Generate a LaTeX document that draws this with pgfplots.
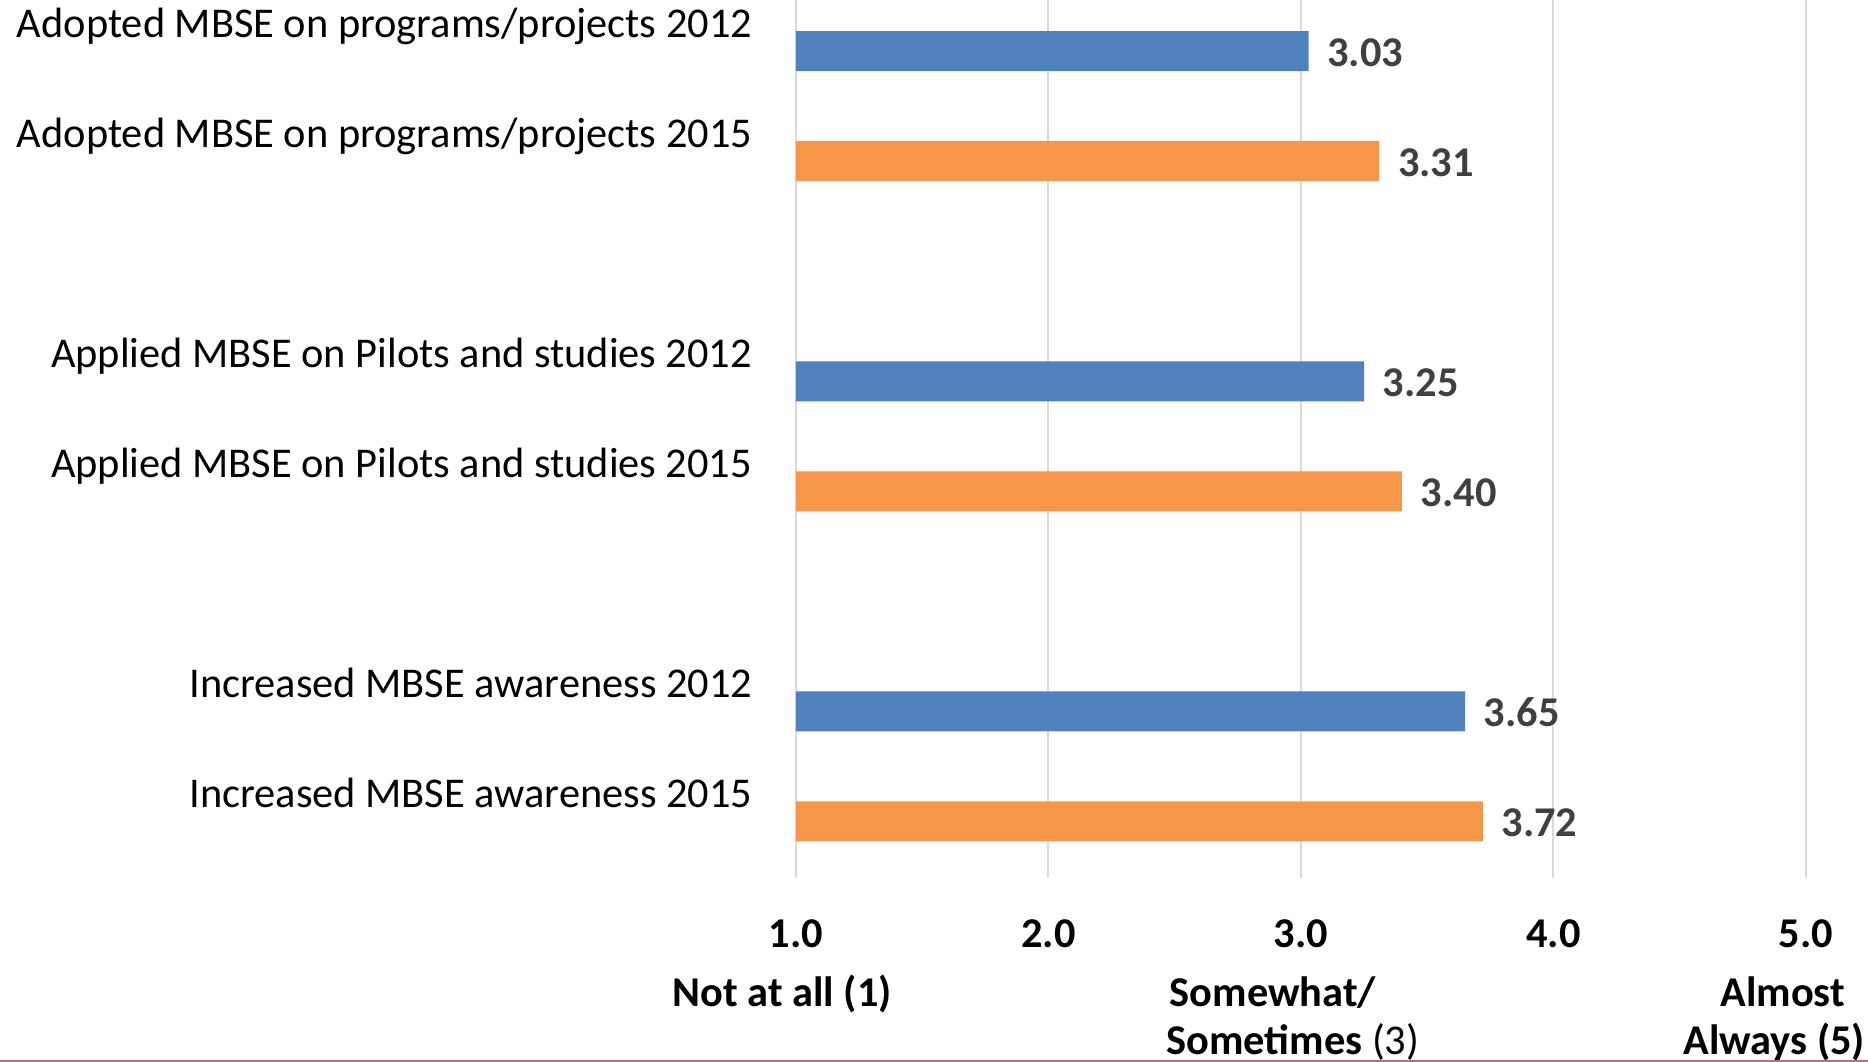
\documentclass[border=0pt]{standalone}
\usepackage{pgfplots}
\pgfplotsset{compat=1.18}
\usepackage{fontspec}
\setmainfont{Carlito}
\definecolor{barblue}{HTML}{4F81BD}
\definecolor{barorange}{HTML}{F79646}
\definecolor{lblgray}{HTML}{404040}
\definecolor{gridgray}{HTML}{D9D9D9}
\definecolor{redline}{HTML}{B87070}
\newcommand{\fs}{\fontsize{10.6}{12.7}\selectfont}
\begin{document}
\begin{tikzpicture}
\useasboundingbox (-199pt,-46pt) rectangle (268pt,219.5pt);
\begin{axis}[
  at={(0pt,0pt)}, anchor=south west,
  scale only axis, width=252.5pt, height=219.5pt,
  xmin=1, xmax=5, ymin=-0.465, ymax=7.515, y dir=reverse,
  axis line style={draw=none},
  major tick length=0pt,
  xtick={1,2,3,4,5}, xticklabels={1.0,2.0,3.0,4.0,5.0},
  xticklabel style={font=\fs\bfseries, anchor=base, inner sep=0pt, yshift=-17.4pt},
  ytick={0,1,3,4,6,7},
  yticklabels={Adopted MBSE on programs/projects 2012,
               Adopted MBSE on programs/projects 2015,
               Applied MBSE on Pilots and studies 2012,
               Applied MBSE on Pilots and studies 2015,
               Increased MBSE awareness 2012,
               Increased MBSE awareness 2015},
  yticklabel style={font=\fs, anchor=base east, inner sep=0pt, xshift=-10.75pt, yshift=3.4pt},
  xmajorgrids, ymajorgrids=false,
  grid style={gridgray, line width=0.5pt},
  xbar, bar width=10pt, bar shift=0pt,
  clip mode=individual,
  point meta=x,
  nodes near coords={\pgfmathprintnumber[fixed,fixed zerofill,precision=2,assume math mode=true]{\pgfplotspointmeta}},
  every node near coord/.append style={font=\fs\bfseries, color=lblgray, anchor=base west, inner sep=0pt, xshift=4.5pt, yshift=-3.9pt},
]
\addplot[draw=none, fill=barblue] coordinates {(3.03,0) (3.25,3) (3.65,6)};
\addplot[draw=none, fill=barorange] coordinates {(3.31,1) (3.40,4) (3.72,7)};
\node[font=\fs\bfseries, anchor=base, inner sep=0pt, yshift=-32pt] at (axis cs:0.945,7.515) {Not at all (1)};
\node[font=\fs\bfseries, anchor=base, inner sep=0pt, yshift=-32pt] at (axis cs:2.889,7.515) {Somewhat/};
\node[font=\fs, anchor=base, inner sep=0pt, yshift=-44.1pt] at (axis cs:2.968,7.515) {\textbf{Sometimes} (3)};
\node[font=\fs\bfseries, anchor=base, inner sep=0pt, yshift=-32pt] at (axis cs:4.908,7.515) {Almost};
\node[font=\fs\bfseries, anchor=base, inner sep=0pt, yshift=-44.1pt] at (axis cs:4.874,7.515) {Always (5)};
\end{axis}
\draw[redline, line width=0.6pt] (-199pt,-45.7pt) -- (268pt,-45.7pt);
\end{tikzpicture}
\end{document}
